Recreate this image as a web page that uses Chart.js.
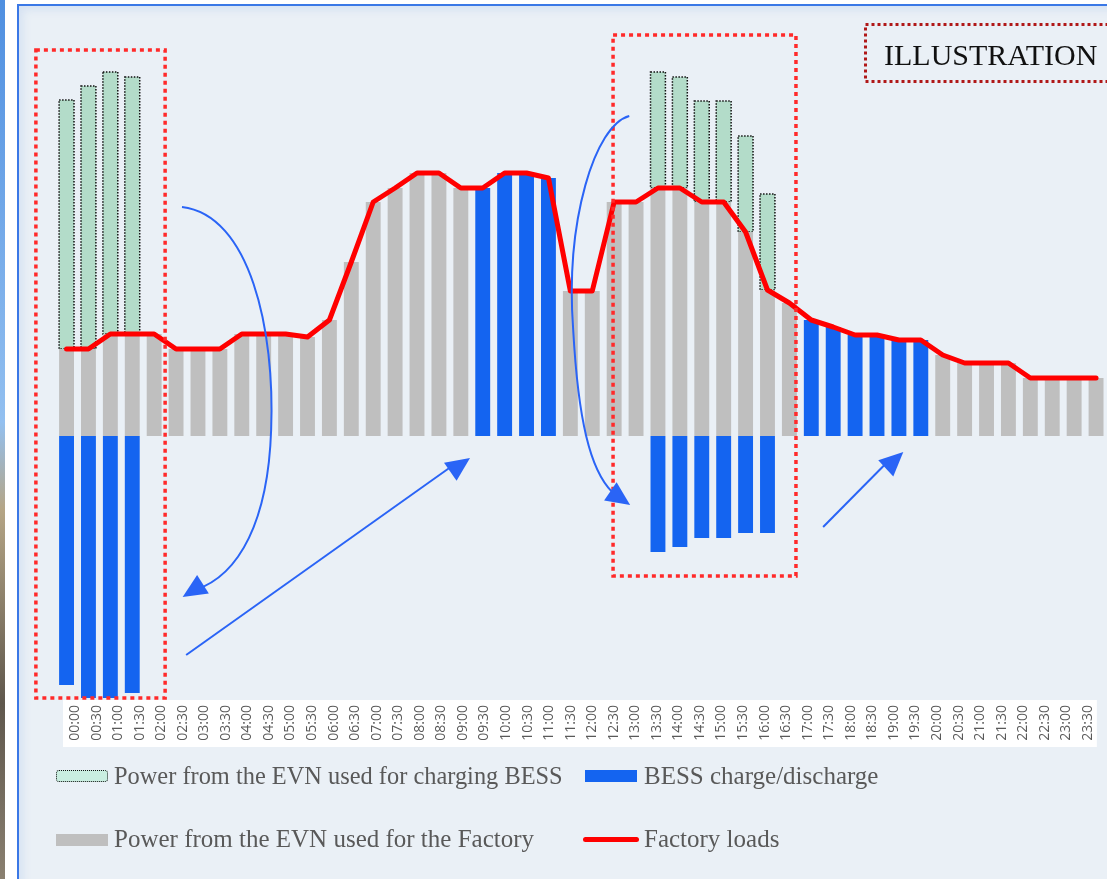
<!DOCTYPE html>
<html>
<head>
<meta charset="utf-8">
<title>BESS illustration</title>
<script src="https://cdn.jsdelivr.net/npm/chart.js@4.4.1/dist/chart.umd.min.js"></script>
<style>
  body { margin: 0; width: 1107px; height: 879px; overflow: hidden; background: #fff; position: relative; }
  #photo { position: absolute; left: 0; top: 0; width: 5px; height: 879px;
           background: linear-gradient(#4f8fe0, #93c0f0 48%, #b5a585 58%, #5f574c 80%, #8a8070 100%); }
  #panel { position: absolute; left: 17px; top: 4px; width: 1200px; height: 1000px;
           border: 2px solid #3a78e6; background: #eaf0f6; box-shadow: inset 4px 4px 8px #d6e2f2; }
  #wrap { position: absolute; left: 0; top: 0; width: 1107px; height: 879px; }
  .tag { position: absolute; left: 884px; top: 40px; font: 30px/30px "Liberation Serif", serif; color: #111; white-space: nowrap; }
  .lg { position: absolute; font: 25px/25px "Liberation Serif", serif; color: #595959; white-space: nowrap; }
  .sym { position: absolute; box-sizing: border-box; }
</style>
</head>
<body>
<div id="photo"></div>
<div id="panel"></div>
<div id="wrap"><canvas id="chart-bess" width="1107" height="879"></canvas></div>
<div class="tag">ILLUSTRATION</div>

<div class="sym" style="left:56px;top:770px;width:52px;height:12px;background:#c9eee0;border:1.5px dotted #111;border-radius:3px;"></div>
<div class="lg" style="left:114px;top:763px;font-size:24.4px;">Power from the EVN used for charging BESS</div>
<div class="sym" style="left:585px;top:770px;width:52px;height:12px;background:#1464f0;"></div>
<div class="lg" style="left:644px;top:763px;">BESS charge/discharge</div>
<div class="sym" style="left:56px;top:834px;width:52px;height:12px;background:#bfbfbf;"></div>
<div class="lg" style="left:114px;top:826px;">Power from the EVN used for the Factory</div>
<div class="sym" style="left:583px;top:837px;width:56px;height:5px;background:#ff0000;border-radius:3px;"></div>
<div class="lg" style="left:644px;top:826px;">Factory loads</div>

<script>
const timeLabels = ['00:00','00:30','01:00','01:30','02:00','02:30','03:00','03:30','04:00','04:30',
    '05:00','05:30','06:00','06:30','07:00','07:30','08:00','08:30','09:00','09:30',
    '10:00','10:30','11:00','11:30','12:00','12:30','13:00','13:30','14:00','14:30',
    '15:00','15:30','16:00','16:30','17:00','17:30','18:00','18:30','19:00','19:30',
    '20:00','20:30','21:00','21:30','22:00','22:30','23:00','23:30'];

// factory load (red line)
const factoryLoad = [87,87,102,102,102,87,87,87,102,102,102,99,116,174,234,248,263,263,248,248,
    263,263,258,145,145,234,234,248,248,234,234,204,146,133,116,109,101,101,96,96,
    81,73,73,73,58,58,58,58];

// grid power that goes to the factory (grey)
const evnFactory = [87,87,102,102,102,87,87,87,102,102,102,99,116,174,234,248,263,263,248,0,
    0,0,0,145,145,234,234,248,248,234,234,204,146,133,0,0,0,0,0,0,
    81,73,73,73,58,58,58,58];

// grid power that goes into the battery (green)
const evnCharging = [249,263,262,257,0,0,0,0,0,0,0,0,0,0,0,0,0,0,0,0,
    0,0,0,0,0,0,0,116,111,101,101,96,96,0,0,0,0,0,0,0,
    0,0,0,0,0,0,0,0];

// battery: negative = charging, positive = discharging (blue)
const bessPower = [-249,-262,-262,-257,0,0,0,0,0,0,0,0,0,0,0,0,0,0,0,248,
    263,263,258,0,0,0,0,-116,-111,-102,-102,-97,-97,0,116,109,101,101,96,96,
    0,0,0,0,0,0,0,0];

const noSidePadding = scale => {
    scale.paddingLeft = 0;
    scale.paddingRight = 0;
};

const decorations = {
    id: 'decorations',
    beforeDraw(chart) {
        // white strip behind the time labels
        const {ctx, chartArea, scales: {xLabels}} = chart;
        const left = xLabels.getPixelForValue(0) - 12;
        const right = xLabels.getPixelForValue(timeLabels.length - 1) + 9;
        ctx.save();
        ctx.fillStyle = '#ffffff';
        ctx.fillRect(left, chartArea.bottom, right - left, 47);
        ctx.restore();
    },
    afterDatasetDraw(chart, args) {
        // dotted outline around the charging bars
        if (args.index !== 1) return;
        const ctx = chart.ctx;
        ctx.save();
        ctx.strokeStyle = '#111';
        ctx.lineWidth = 1.5;
        ctx.setLineDash([1.5, 1.5]);
        args.meta.data.forEach((bar, i) => {
            if (!evnCharging[i]) return;
            const p = bar.getProps(['x', 'y', 'base', 'width'], true);
            ctx.strokeRect(p.x - p.width / 2, p.y, p.width, p.base - p.y);
        });
        ctx.restore();
    },
    afterDatasetsDraw(chart) {
        const {ctx, scales: {x, y}} = chart;
        const step = x.getPixelForValue(1) - x.getPixelForValue(0);
        const px = s => x.getPixelForValue(0) + s * step;
        const py = v => y.getPixelForValue(v);

        ctx.save();
        // red dotted boxes round the charging periods
        ctx.strokeStyle = '#ff2a2a';
        ctx.lineWidth = 3.5;
        ctx.setLineDash([4, 4]);
        ctx.strokeRect(px(-1.4), py(386), px(4.5) - px(-1.4), py(-262) - py(386));
        ctx.strokeRect(px(24.95), py(401), px(33.3) - px(24.95), py(-140) - py(401));

        // ILLUSTRATION tag frame
        ctx.strokeStyle = '#b01818';
        ctx.lineWidth = 3;
        ctx.setLineDash([3, 3]);
        ctx.strokeRect(865.5, 24.5, 300, 57);

        // blue arrows
        ctx.setLineDash([]);
        ctx.strokeStyle = '#2a64f6';
        ctx.fillStyle = '#2a64f6';
        ctx.lineWidth = 2;
        const head = (tx, ty, fx, fy) => {
            const a = Math.atan2(ty - fy, tx - fx);
            const len = 24, half = 11;
            const bx = tx - len * Math.cos(a), by = ty - len * Math.sin(a);
            ctx.beginPath();
            ctx.moveTo(tx, ty);
            ctx.lineTo(bx + half * Math.sin(a), by - half * Math.cos(a));
            ctx.lineTo(bx - half * Math.sin(a), by + half * Math.cos(a));
            ctx.closePath();
            ctx.fill();
        };

        ctx.beginPath();
        ctx.moveTo(px(5.27), py(229));
        ctx.bezierCurveTo(px(8.38), py(221), px(9.52), py(106), px(9.34), py(6));
        ctx.bezierCurveTo(px(9.2), py(-84), px(7.92), py(-139), px(5.87), py(-154));
        ctx.stroke();
        head(px(5.3), py(-161), px(6.1), py(-150));

        ctx.beginPath();
        ctx.moveTo(px(5.46), py(-219));
        ctx.lineTo(px(17.6), py(-30));
        ctx.stroke();
        head(px(18.42), py(-22), px(5.46), py(-219));

        ctx.beginPath();
        ctx.moveTo(px(25.69), py(320));
        ctx.bezierCurveTo(px(24.13), py(311), px(22.76), py(216), px(23.13), py(106));
        ctx.bezierCurveTo(px(23.36), py(16), px(23.9), py(-34), px(24.91), py(-56));
        ctx.stroke();
        head(px(25.73), py(-69), px(24.6), py(-52));

        ctx.beginPath();
        ctx.moveTo(px(34.54), py(-91));
        ctx.lineTo(px(37.7), py(-21));
        ctx.stroke();
        head(px(38.2), py(-16), px(34.54), py(-91));
        ctx.restore();
    }
};

new Chart(document.getElementById('chart-bess'), {
    type: 'bar',
    data: {
        labels: timeLabels,
        datasets: [{
            label: 'Power from the EVN used for the Factory',
            data: evnFactory,
            backgroundColor: '#bfbfbf',
            stack: 'power',
            order: 1
        }, {
            label: 'Power from the EVN used for charging BESS',
            data: evnCharging,
            backgroundColor: '#b3dcc9',
            stack: 'power',
            order: 1
        }, {
            label: 'BESS charge/discharge',
            data: bessPower,
            backgroundColor: '#1464f0',
            stack: 'power',
            order: 1
        }, {
            type: 'line',
            label: 'Factory loads',
            data: factoryLoad,
            borderColor: '#ff0000',
            borderWidth: 5,
            borderCapStyle: 'round',
            borderJoinStyle: 'round',
            pointRadius: 0,
            tension: 0,
            order: 0
        }]
    },
    options: {
        responsive: false,
        animation: false,
        layout: {
            padding: { left: 55.6, right: 0, top: 20, bottom: 129 }
        },
        datasets: {
            bar: { categoryPercentage: 1, barPercentage: 0.68 }
        },
        plugins: {
            legend: { display: false },
            tooltip: { enabled: false }
        },
        scales: {
            x: {
                stacked: true,
                display: false,
                afterFit: noSidePadding
            },
            // the time labels sit on a slightly tighter spacing than the bars
            xLabels: {
                type: 'linear',
                position: 'bottom',
                offset: false,
                min: -0.9,
                max: 47.89,
                grid: { display: false, offset: false },
                border: { display: false },
                afterBuildTicks: scale => {
                    scale.ticks = timeLabels.map((t, i) => ({ value: i }));
                },
                afterFit: scale => {
                    noSidePadding(scale);
                    scale.height = 50;
                },
                ticks: {
                    minRotation: 90,
                    maxRotation: 90,
                    autoSkip: false,
                    padding: -3,
                    color: '#595959',
                    font: { family: 'Open Sans', size: 14 },
                    callback: value => timeLabels[value]
                }
            },
            y: {
                stacked: true,
                display: false,
                min: -264,
                max: 416
            }
        }
    },
    plugins: [decorations]
});
</script>
</body>
</html>
